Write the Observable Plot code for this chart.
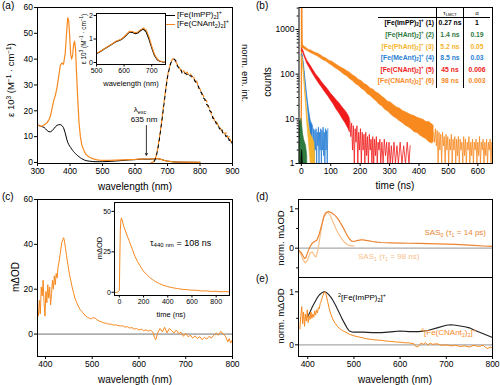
<!DOCTYPE html>
<html><head><meta charset="utf-8">
<script src="https://cdn.jsdelivr.net/npm/d3@7"></script>
<script src="https://cdn.jsdelivr.net/npm/@observablehq/plot@0.6"></script>
<style>
body{margin:0;background:#fff;}
#wrap{position:relative;width:500px;height:385px;overflow:hidden;font-family:"Liberation Sans",Arial,sans-serif;color:#000;}
#wrap svg{position:absolute;left:0;top:0;overflow:visible;background:transparent;}
.t{position:absolute;white-space:nowrap;line-height:1;}
.t sub,.t sup{font-size:68%;line-height:0;}
.t sub{vertical-align:-0.3em;}
.t sup{vertical-align:0.55em;}
table.tb{position:absolute;right:10px;top:8px;border-collapse:collapse;font-family:"Liberation Sans",Arial,sans-serif;font-size:6.8px;font-weight:bold;line-height:1;}
table.tb td{padding:0;height:11.6px;white-space:nowrap;}
table.tb tr.h td{height:9px;border-bottom:1px solid #000;font-weight:normal;font-size:6px;}
table.tb td.c1{min-width:54px;text-align:right;padding-right:2px;}
table.tb td.c2{width:26px;text-align:center;border-left:1px solid #000;border-right:1px solid #000;}
table.tb td.c3{width:26px;text-align:center;}
table.tb sub,table.tb sup{font-size:68%;line-height:0;}
table.tb sub{vertical-align:-0.3em;} table.tb sup{vertical-align:0.55em;}
</style></head><body><div id="wrap"></div>
<script>
// ---------- DATA ----------
// (a) absorption
const absWl = [300,305,310,315,320,325,330,335,340,345,350,355,360,365,370,375,380,385,390,393,396,399,402,405,408,411,414,417,420,424,428,432,436,440,445,450,460,470,480,490,500,520,540,560,580,600,620,640,660,670,680,690,700,720,750,800];
const absCN = [14.5,14.2,14,14.2,14.5,15,15.5,16.5,18,21,24,26,29,33,37.5,38.5,38,42,51,56,55,49,42,40,41.5,45.5,47,44,35,24,15,10,7,5.5,4,3,2,1.5,1.1,0.9,0.8,0.8,0.9,1,1.1,1.2,1.4,1.35,1.5,1.5,1.2,0.8,0.5,0.2,0.1,0.05];
const absImPP = [14.5,14.3,14,13.8,13.6,13,12.3,11.9,11.9,12.3,13,13.8,14.4,14.6,14.7,14.3,13.5,11.5,9,7.8,7,6.3,5.8,5.2,4.7,4.2,3.8,3.4,3,2.6,2.2,1.8,1.5,1.2,0.9,0.7,0.5,0.35,0.3,0.3,0.3,0.4,0.55,0.75,0.95,1.1,1.3,1.25,1.4,1.45,1.2,0.8,0.5,0.2,0.1,0.05];
// (a) emission (normalised)
const emWl = [650,655,660,665,670,675,680,685,690,695,700,705,710,715,720,725,730,735,740,745,750,755,760,765,770,775,780,785,790,795,800,805,810,815,820,825,830,835,840,845,850,855,860,865,870,875,880,885,890,895,900];
const emCN = [0,0,0.8,2.5,5.5,9.5,14,19,24,29,33.5,36.5,38.5,40,40.2,39,38,37,36,35,35.5,34,35,34,34.5,33,33.5,31,31.5,29,28.5,26.5,26,24,24,21.5,21,18.5,18,16,16,14.5,14,12.5,12.5,11,11.5,9.5,10,8,8];
const emImPP = [0,0,0.6,2.2,5,9,13.5,18.5,23.5,28.5,33,36,38.5,39.5,40,39.5,37.5,36.5,36.5,34.5,35,34.5,34,34.5,33.5,33.5,32.5,31.5,30.5,29.5,27.5,27,25,24.5,22.5,22,20,19.5,17,17,15,15,13,13.5,11.5,11.5,10,10.5,8.5,9,7];
const excWavelength = 635;
// (a) inset
const insWl = [500,510,520,530,540,550,560,570,580,590,600,610,620,630,640,650,660,670,680,690,700,710,720,730,740,750];
const insCN = [0.4,0.45,0.52,0.6,0.67,0.74,0.82,0.9,0.95,1.0,1.1,1.22,1.33,1.32,1.27,1.3,1.4,1.47,1.38,1.1,0.7,0.35,0.15,0.06,0.03,0.02];
const insImPP = [0.38,0.44,0.51,0.59,0.66,0.73,0.81,0.88,0.93,0.98,1.07,1.19,1.3,1.28,1.23,1.26,1.36,1.42,1.3,1.0,0.62,0.3,0.12,0.05,0.02,0.01];

// (b) emission decays: noise envelope [time, low, high] plus noisy tails [time, counts]
const names = ["[Fe(ImPP)<sub>2</sub>]<sup>+</sup> (1)","[Fe(HAnt)<sub>2</sub>]<sup>+</sup> (2)","[Fe(PhAnt)<sub>2</sub>]<sup>+</sup> (3)","[Fe(MeAnt)<sub>2</sub>]<sup>+</sup> (4)","[Fe(CNAnt)<sub>2</sub>]<sup>+</sup> (5)","[Fe(CNAnt<sub>2</sub>)<sub>2</sub>]<sup>+</sup> (6)"];
const tauLMCT = ["0.27 ns","1.4 ns","5.2 ns","8.5 ns","45 ns","98 ns"];
const alpha = ["1","0.19","0.05","0.03","0.006","0.003"];
const seriesColors = ["#000000","#2f7a3f","#f6b42c","#2a7fd5","#f01a1a","#f7891f"];
const orangeBand = [[3,370,440],[5,385,445],[15,345,395],[25,315,350],[35,290,335],[45,270,305],[55,250,290],[65,228,268],[75,205,240],[85,192,225],[95,170,200],[105,155,190],[115,138,170],[125,125,155],[135,112,140],[145,98,130],[155,90,118],[165,78,108],[175,70,95],[185,60,86],[195,55,75],[205,47,70],[215,43,60],[225,36,56],[235,33,48],[245,28,45],[255,25,39],[265,21,36],[275,19,31],[285,16,28],[295,14.5,24],[305,12.5,23],[315,11,20],[325,10,18],[335,8.8,17],[345,8,15],[355,7,14],[365,6.5,13],[375,5.8,12],[385,5,11.5],[395,4.8,10.5],[405,4.2,10],[415,3.8,9.5],[425,3.5,8.5],[435,3,8.5],[445,2.8,7.5],[450,3,7]];
const orangeTail = [[450,5],[453,3],[456,6],[459,2.5],[462,5.5],[465,1],[468,5],[471,2],[474,4.5],[477,1],[480,5],[483,2.5],[486,4],[489,1],[492,4.5],[495,2],[498,4],[501,1],[504,3.5],[507,2],[510,4.5],[513,1],[516,3.5],[519,2],[522,4],[525,1],[528,3.5],[531,1.5],[534,4],[537,1],[540,3.5],[543,2],[546,3],[549,1],[552,4],[555,1.5],[558,3.5],[561,1],[564,3],[567,2],[570,4],[573,1],[576,3],[579,1.5],[582,3.5],[585,1],[588,3],[591,2],[594,3.5],[597,1],[600,3],[603,1.5],[606,4],[609,1],[612,3],[615,2],[618,3.5],[621,1],[624,3],[627,1.5],[630,3.5],[633,1],[636,3],[639,2],[642,3.5],[645,1],[648,3],[650,2]];
const orangeSpike = [[-1,1],[0,30],[0.5,5000],[1.5,5000],[2.5,600],[3,400]];
const redBand = [[3,320,370],[6,300,345],[12,235,265],[20,170,200],[30,130,160],[40,100,125],[50,78,98],[60,62,82],[70,50,66],[80,40,55],[90,33,46],[100,26,37],[110,21,31],[120,16,26],[130,13,22],[140,10,18],[150,8,15],[160,6,12],[165,5,10]];
const redTail = [[165,9],[168,4],[171,8],[174,2],[177,7],[180,1],[183,6],[186,3],[189,7],[192,1],[195,5],[198,2],[201,6],[204,1],[207,5],[210,2],[213,4.5],[216,1],[219,5],[222,1.5],[225,4],[228,1],[231,4.5],[234,2],[237,3.5],[240,1],[243,4],[246,1],[249,3.5],[252,1.5],[255,4],[258,1],[261,3],[264,2],[267,3.5],[270,1],[274,3],[278,1],[282,3.5],[286,1.5],[290,3],[294,1],[298,3],[302,1],[306,2.5],[310,1],[315,3],[320,1],[325,2.5],[330,1],[336,3],[342,1],[348,2.5],[354,1],[360,3],[366,1],[370,2.5]];
const blueBand = [[3,230,275],[5,225,270],[8,150,185],[11,95,120],[14,60,78],[17,38,50],[20,24,33],[24,13,20],[28,7,13],[32,4,9],[35,3,8],[38,2.5,7.5]];
const blueTail = [[38,7],[40,3],[42,6],[44,1],[46,5.5],[48,2],[50,6],[52,1],[54,5],[56,2.5],[58,6.5],[60,1],[62,5],[64,2],[66,6],[68,1],[70,5.5],[72,2],[74,6.5],[76,1.5],[78,5],[80,1],[82,6],[84,2],[86,5.5],[88,1],[90,6]];
const yellowBand = [[3,200,250],[5,170,215],[8,100,130],[11,55,75],[14,30,42],[17,16,24],[20,8,14],[24,4,8],[28,2,5.5],[32,1,4.5],[36,1,4],[40,1,3.5],[44,1,3],[47,1,1.5]];
const greenBand = [[-6,1,6],[-4,1,9],[-2,1,8],[0,1,10],[2,1,8],[4,1,6],[6,1,4.5],[9,1,3.5],[12,1,3],[16,1,2.5],[20,1,1.5]];
const blackBand = [[1,1,1.5],[2,1,2],[3,1,1.8],[4,1,1.4],[5,1,1]];

// (c) transient absorption spectrum and kinetics at 440 nm
const cSpec = [[383,12],[385,8],[387,15],[389,9],[391,21],[393,17],[395,24],[397,14],[399,8],[401,19],[403,14],[405,22],[407,16],[409,21],[411,13],[413,18],[415,24],[417,20],[419,26],[421,22],[423,27],[425,25],[427,30],[429,32],[431,35],[433,38],[435,41],[437,42],[439,43],[441,41],[443,38],[445,35],[448,31],[451,27],[454,24],[457,21],[460,18.5],[463,16],[466,14.5],[470,12.5],[474,11],[478,10],[482,9],[486,8],[490,7.5],[494,7],[498,6.8],[502,7.3],[506,7.2],[510,6.4],[515,5.8],[520,5.4],[525,5],[530,4.8],[535,4.4],[540,4.5],[545,4],[550,4.1],[555,3.8],[560,3.6],[565,3.7],[570,3.1],[575,3.3],[580,2.7],[585,2.9],[590,2.2],[595,2.5],[600,1.8],[605,2.2],[610,1.5],[615,1.9],[620,1.3],[625,1.7],[630,0.8],[633,-1.5],[636,-2.5],[640,0.5],[645,2.5],[650,1],[655,3],[660,0.5],[665,2.5],[670,1.5],[675,0.5],[680,1.8],[685,0.2],[690,0.8],[695,-1],[700,0.3],[705,-1.2],[710,-0.5],[715,-1.8],[720,-0.8],[725,-2],[730,-1.2],[735,-2.5],[740,-1.5],[745,-2.2],[750,-1],[755,-1.8],[760,-0.5],[765,0.5],[770,-0.5],[775,1.2],[780,0],[785,-1],[790,-3.5],[793,-2],[796,-4],[800,-2.5]];
const cKin = [[-40,0.2],[-25,-0.3],[-10,0.3],[0,1],[4,20],[8,38],[12,44],[17,46],[22,45],[30,42.5],[40,40],[50,38],[60,36],[70,34],[80,32],[90,30],[100,28],[115,25],[130,22],[150,19],[170,16.5],[200,13],[225,11],[250,9.2],[275,7.8],[300,6.5],[330,5.4],[360,4.4],[400,3.5],[440,2.8],[480,2.3],[520,1.8],[560,1.6],[600,1.3],[640,1.2],[680,0.8],[720,0.9],[760,0.5],[800,0.6],[840,0.3],[880,0.4],[910,0.2]];

// (d) species-associated spectra
const sas0 = [[380,-0.05],[385,-0.1],[390,-0.2],[393,-0.26],[396,-0.24],[400,-0.1],[405,0.04],[410,0.13],[415,0.17],[420,0.21],[425,0.36],[430,0.58],[435,0.8],[440,0.9],[445,0.93],[450,0.91],[455,0.87],[460,0.82],[465,0.75],[470,0.66],[475,0.56],[480,0.45],[485,0.33],[490,0.24],[495,0.18],[500,0.17],[505,0.19],[510,0.2],[515,0.21],[520,0.21],[525,0.2],[530,0.19],[540,0.17],[550,0.155],[560,0.145],[580,0.135],[600,0.13],[620,0.125],[640,0.12],[660,0.115],[680,0.11],[700,0.105],[720,0.095],[740,0.085],[760,0.07],[780,0.055],[800,0.045]];
const sas1 = [[380,-0.05],[385,-0.15],[390,-0.3],[395,-0.37],[400,-0.3],[405,-0.12],[410,-0.1],[415,-0.2],[418,-0.22],[422,-0.05],[426,0.25],[430,0.55],[434,0.78],[438,0.9],[442,0.92],[446,0.88],[450,0.8],[455,0.66],[460,0.52],[465,0.4],[470,0.3],[475,0.22],[480,0.15],[485,0.1],[490,0.07],[495,0.06],[500,0.06]];
// (e) normalised spectra
const eImPP = [[400,0.53],[405,0.62],[410,0.72],[415,0.8],[420,0.88],[425,0.94],[430,0.98],[435,1.0],[440,0.99],[445,0.95],[450,0.9],[455,0.83],[460,0.75],[465,0.66],[470,0.57],[475,0.48],[480,0.4],[485,0.32],[490,0.26],[495,0.245],[500,0.24],[510,0.24],[520,0.24],[540,0.23],[560,0.23],[580,0.245],[600,0.26],[620,0.25],[640,0.25],[660,0.27],[680,0.32],[700,0.37],[710,0.38],[720,0.37],[740,0.34],[750,0.32],[760,0.28],[780,0.21],[800,0.14]];
const eCN = [[383,0.3],[385,0.55],[387,0.72],[389,0.4],[391,0.62],[393,0.35],[395,0.58],[397,0.45],[399,0.66],[401,0.42],[403,0.55],[405,0.48],[407,0.62],[409,0.5],[411,0.58],[413,0.52],[415,0.64],[417,0.56],[419,0.66],[421,0.6],[423,0.7],[425,0.68],[427,0.78],[429,0.82],[431,0.88],[433,0.93],[435,0.98],[437,1.0],[439,0.97],[441,0.9],[443,0.82],[446,0.7],[450,0.58],[455,0.47],[460,0.4],[465,0.34],[470,0.3],[475,0.27],[480,0.25],[490,0.2],[500,0.17],[510,0.15],[520,0.13],[530,0.11],[540,0.1],[550,0.09],[560,0.085],[570,0.07],[580,0.065],[590,0.055],[600,0.05],[610,0.04],[620,0.035],[630,0.02],[634,-0.03],[638,-0.04],[645,0.03],[650,0.01],[655,0.04],[660,0.0],[665,0.03],[670,0.01],[680,0.02],[690,-0.01],[700,0.0],[710,-0.02],[720,-0.01],[730,-0.03],[740,-0.02],[750,-0.04],[760,-0.01],[770,-0.03],[780,-0.01],[785,-0.05],[790,-0.07],[795,-0.04],[800,-0.06]];

// tick values
const ticksAx = [300,400,500,600,700,800,900], ticksAy = [0,10,20,30,40,50,60];
const ticksInsAx = [500,600,700], ticksInsAy = [0,1,2];
const ticksBx = [0,100,200,300,400,500,600], ticksBy = [1,10,100,1000];
const minorBy = [2,3,4,5,6,7,8,9,20,30,40,50,60,70,80,90,200,300,400,500,600,700,800,900,2000,3000];
const ticksCx = [400,500,600,700,800], ticksCy = [0,20,40,60];
const ticksKx = [0,200,400,600,800], ticksKy = [0,25,50];
const ticksDEx = [400,500,600,700,800], ticksDEy = [0,1];

// ---------- DRAWING ----------
const W = 500, H = 385, ORANGE = "#f7891f";
const wrap = document.getElementById("wrap");
const ST = "background:transparent;overflow:visible;font-family:'Liberation Sans',Arial,sans-serif;";
const fmt = d => String(d);
function box(l, r, t, b) { return {width: W, height: H, marginLeft: l, marginRight: W - r, marginTop: t, marginBottom: H - b, style: ST}; }
function xA(ticks, fs = 8.5, o = {}) { return Plot.axisX({ticks, tickSize: 3, tickPadding: 1.5, fontSize: fs, label: null, tickFormat: fmt, ...o}); }
function yA(ticks, fs = 8.5, o = {}) { return Plot.axisY({ticks, tickSize: 3, tickPadding: 1.5, fontSize: fs, label: null, tickFormat: fmt, ...o}); }
function add(p) { wrap.appendChild(p); }
function txt(html, x, y, o = {}) {
  const d = document.createElement("div");
  d.className = "t";
  d.innerHTML = html;
  const size = o.size || 10, anchor = o.anchor || "middle";
  const tx = anchor === "start" ? "0" : anchor === "end" ? "-100%" : "-50%";
  d.style.left = x + "px"; d.style.top = y + "px"; d.style.fontSize = size + "px";
  d.style.color = o.color || "#000";
  if (o.weight) d.style.fontWeight = o.weight;
  d.style.transform = `translate(${tx},-50%)` + (o.rotate ? ` rotate(${o.rotate}deg)` : "");
  wrap.appendChild(d);
  return d;
}
const pairs = a => a.map(([x, y]) => ({x, y}));
const triples = a => a.map(([t, lo, hi]) => ({t, lo, hi}));

// (a) main
const absData = absWl.map((w, i) => ({w, cn: absCN[i], impp: absImPP[i]}));
const emData = emWl.map((w, i) => ({w, cn: emCN[i], impp: emImPP[i]}));
add(Plot.plot({
  ...box(37, 232, 7, 163),
  x: {domain: [300, 900]}, y: {domain: [-0.4, 60]},
  marks: [
    Plot.line(absData, {x: "w", y: "impp", stroke: "#000", strokeWidth: 1}),
    Plot.line(absData, {x: "w", y: "cn", stroke: ORANGE, strokeWidth: 1.2}),
    Plot.line(emData, {x: "w", y: "cn", stroke: ORANGE, strokeWidth: 1.2, strokeDasharray: "4,3"}),
    Plot.line(emData, {x: "w", y: "impp", stroke: "#000", strokeWidth: 1.1, strokeDasharray: "3,4", strokeDashoffset: 3.5}),
    Plot.arrow([{x: excWavelength, y1: 14.3, y2: 2.8}], {x1: "x", x2: "x", y1: "y1", y2: "y2", stroke: "#000", strokeWidth: 0.8, headLength: 4}),
    Plot.frame({stroke: "#000"}),
    xA(ticksAx), yA(ticksAy)
  ]
}));
// (a) inset
const insData = insWl.map((w, i) => ({w, cn: insCN[i], impp: insImPP[i]}));
add(Plot.plot({
  ...box(96, 165, 13, 64),
  x: {domain: [500, 750]}, y: {domain: [-0.085, 2.085]},
  marks: [
    Plot.frame({fill: "#fff", stroke: "none"}),
    Plot.line(insData, {x: "w", y: "impp", stroke: "#000", strokeWidth: 1.1}),
    Plot.line(insData, {x: "w", y: "cn", stroke: ORANGE, strokeWidth: 1.1}),
    Plot.frame({stroke: "#000"}),
    xA(ticksInsAx, 7, {tickSize: 2.5}), yA(ticksInsAy, 7, {tickSize: 2.5, tickPadding: 1})
  ]
}));

// (b)
const areaOf = (d, k) => Plot.areaY(triples(d), {x: "t", y1: "lo", y2: "hi", fill: seriesColors[k], stroke: seriesColors[k], strokeWidth: 0.6, clip: true});
const tailOf = (d, k, w = 0.8) => Plot.line(pairs(d), {x: "x", y: "y", stroke: seriesColors[k], strokeWidth: w, clip: true});
add(Plot.plot({
  ...box(298.5, 492, 7, 163),
  x: {domain: [-8, 650]}, y: {type: "log", domain: [1, 3100]},
  marks: [
    tailOf(orangeSpike, 5, 1.3),
    areaOf(orangeBand, 5), tailOf(orangeTail, 5),
    areaOf(redBand, 4), tailOf(redTail, 4),
    areaOf(blueBand, 3), tailOf(blueTail, 3),
    areaOf(yellowBand, 2), areaOf(greenBand, 1), areaOf(blackBand, 0),
    Plot.frame({stroke: "#000"}),
    xA(ticksBx), yA(ticksBy),
    yA(minorBy, 8.5, {tickSize: 1.8, text: null})
  ]
}));

// (c) main
add(Plot.plot({
  ...box(37, 232, 199, 356),
  x: {domain: [383, 800]}, y: {domain: [-10, 60]},
  marks: [
    Plot.ruleY([0], {stroke: "#333", strokeWidth: 0.7}),
    Plot.line(pairs(cSpec), {x: "x", y: "y", stroke: ORANGE, strokeWidth: 1, clip: true}),
    Plot.frame({stroke: "#000"}),
    xA(ticksCx), yA(ticksCy)
  ]
}));
// (c) inset
add(Plot.plot({
  ...box(114, 229, 202, 295),
  x: {domain: [-40, 910]}, y: {domain: [-2, 55.5]},
  marks: [
    Plot.frame({fill: "#fff", stroke: "none"}),
    Plot.line(pairs(cKin), {x: "x", y: "y", stroke: ORANGE, strokeWidth: 1, clip: true}),
    Plot.frame({stroke: "#000"}),
    xA(ticksKx, 7, {tickSize: 2.5}), yA(ticksKy, 7, {tickSize: 2.5, tickPadding: 1})
  ]
}));

// (d)
add(Plot.plot({
  ...box(298, 492, 199, 277),
  x: {domain: [380, 800], axis: null}, y: {domain: [-0.744, 1.236]},
  marks: [
    Plot.ruleY([0], {stroke: "#aaa", strokeWidth: 1.2}),
    Plot.line(pairs(sas1), {x: "x", y: "y", stroke: "#f9c08a", strokeWidth: 1.2}),
    Plot.line(pairs(sas0), {x: "x", y: "y", stroke: "#ec8533", strokeWidth: 1.2}),
    Plot.frame({stroke: "#000"}),
    yA(ticksDEy), yA([-0.5, 0.5], 8.5, {tickSize: 1.8, text: null})
  ]
}));
// (e)
add(Plot.plot({
  ...box(298, 492, 277, 356),
  x: {domain: [380, 800]}, y: {domain: [-0.22, 1.27]},
  marks: [
    Plot.ruleY([0], {stroke: "#aaa", strokeWidth: 1.2}),
    Plot.line(pairs(eImPP), {x: "x", y: "y", stroke: "#222", strokeWidth: 1.1}),
    Plot.line(pairs(eCN), {x: "x", y: "y", stroke: ORANGE, strokeWidth: 1}),
    Plot.frame({stroke: "#000"}),
    xA(ticksDEx), yA(ticksDEy), yA([0.5], 8.5, {tickSize: 1.8, text: null})
  ]
}));

// ---------- TEXT ----------
txt("(a)", 2, 6, {anchor: "start", size: 10});
txt("(b)", 256, 6, {anchor: "start", size: 10});
txt("(c)", 2, 197, {anchor: "start", size: 10});
txt("(d)", 256, 197, {anchor: "start", size: 10});
txt("(e)", 256, 279, {anchor: "start", size: 10});
// (a)
txt("ε 10<sup>3</sup> (M<sup>−1</sup> · cm<sup>−1</sup>)", 11, 80, {rotate: -90, size: 9.5});
txt("norm. em. int.", 245, 73, {rotate: 90, size: 9.5});
txt("wavelength (nm)", 135, 187, {size: 10});
txt("ε 10<sup>3</sup> (M<sup>−1</sup> · cm<sup>−1</sup>)", 83.5, 39, {rotate: -90, size: 6.5});
txt("wavelength (nm)", 131, 84, {size: 7.5});
txt("λ<sub>exc</sub>", 140, 110, {size: 8});
txt("635 nm", 144, 120, {size: 8});
// legend (a)
[[0, "#000", "[Fe(ImPP)<sub>2</sub>]<sup>+</sup>"], [1, ORANGE, "[Fe(CNAnt<sub>2</sub>)<sub>2</sub>]<sup>+</sup>"]].forEach(([i, c, h]) => {
  const l = document.createElement("div");
  l.style.cssText = `position:absolute;left:166px;top:${14.5 + i * 9}px;width:9px;height:0;border-top:1.5px solid ${c};`;
  wrap.appendChild(l);
  txt(h, 177, 15 + i * 9, {anchor: "start", size: 8});
});
// (b)
txt("counts", 268, 82, {rotate: -90, size: 10});
txt("time (ns)", 395, 186, {size: 10});
const tb = document.createElement("table");
tb.className = "tb";
tb.innerHTML = `<tr class="h"><td class="c1"></td><td class="c2">τ<sub>LMCT</sub></td><td class="c3">α</td></tr>` +
  names.map((n, i) => `<tr style="color:${seriesColors[i]}"><td class="c1">${n}</td><td class="c2">${tauLMCT[i]}</td><td class="c3">${alpha[i]}</td></tr>`).join("");
wrap.appendChild(tb);
// (c)
txt("mΔOD", 16, 277, {rotate: -90, size: 10});
txt("wavelength (nm)", 135, 380, {size: 10});
txt("mΔOD", 100, 248, {rotate: -90, size: 7.5});
txt("time (ns)", 171, 315, {size: 7.5});
txt("τ<sub>440 nm</sub> = 108 ns", 150, 243, {anchor: "start", size: 9});
// (d)/(e)
txt("norm. mΔOD", 281, 238, {rotate: -90, size: 9.5});
txt("norm. mΔOD", 281, 316, {rotate: -90, size: 9.5});
txt("wavelength (nm)", 395, 380, {size: 10});
txt("SAS<sub>0</sub> (τ<sub>1</sub> = 14 ps)", 486, 233, {anchor: "end", size: 8, color: "#ec8533"});
txt("SAS<sub>1</sub> (τ<sub>1</sub> = 98 ns)", 358, 257, {anchor: "start", size: 8, color: "#f9c08a"});
txt("<sup>2</sup>[Fe(ImPP)<sub>2</sub>]<sup>+</sup>", 338, 298, {anchor: "start", size: 8});
txt("<sup>4</sup>[Fe(CNAnt<sub>2</sub>)<sub>2</sub>]<sup>+</sup>", 421, 333, {anchor: "start", size: 8, color: ORANGE});
</script></body></html>
